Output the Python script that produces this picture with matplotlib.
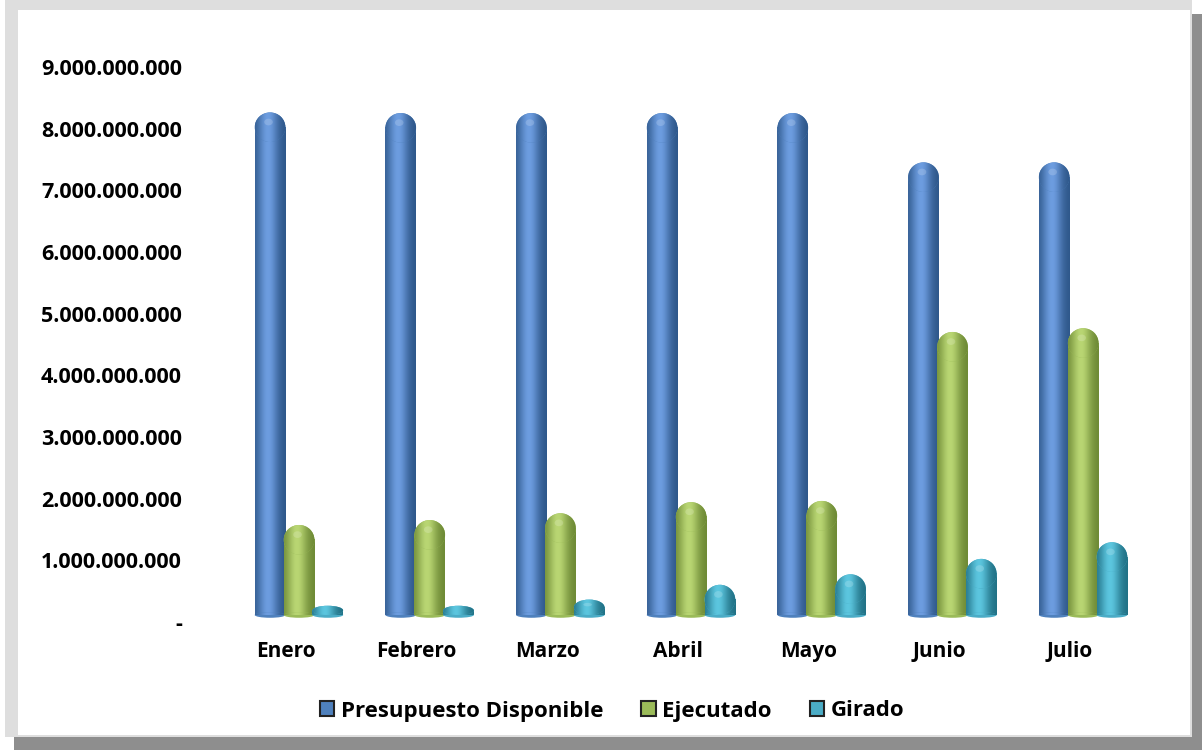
import numpy as np
import matplotlib
matplotlib.use('Agg')
import matplotlib.pyplot as plt
from matplotlib.patches import Rectangle, Ellipse, Patch
from matplotlib.transforms import ScaledTranslation
from matplotlib.ticker import FuncFormatter, MultipleLocator

meses = ['Enero', 'Febrero', 'Marzo', 'Abril', 'Mayo', 'Junio', 'Julio']
presupuesto = np.array([8.15, 8.14, 8.14, 8.14, 8.14, 7.34, 7.34]) * 1e9
ejecutado = np.array([1.46, 1.54, 1.65, 1.83, 1.85, 4.59, 4.65]) * 1e9
girado = np.array([0.02, 0.05, 0.25, 0.49, 0.66, 0.91, 1.18]) * 1e9
series_names = ['Presupuesto Disponible', 'Ejecutado', 'Girado']

plt.rcParams['font.family'] = ['Open Sans', 'DejaVu Sans']
plt.rcParams['font.weight'] = 'bold'

W, H = 1202, 751
fig = plt.figure(figsize=(W / 100, H / 100), dpi=100)
fig.patch.set_facecolor('white')


def px_rect(x0, y0, x1, y1, color, z):
    r = Rectangle((x0 / W, 1 - y1 / H), (x1 - x0) / W, (y1 - y0) / H,
                  transform=fig.transFigure, facecolor=color, edgecolor='none', zorder=z)
    fig.patches.append(r)


# frame with shadow
px_rect(14, 14, 1202, 750, '#8e8e8e', -3)
px_rect(5, 0, 1192, 737, '#dedede', -2)
px_rect(18, 10, 1190, 735, 'white', -1)

ax = fig.add_axes([200 / W, (H - 615) / H, 950 / W, 555 / H])
ax.set_facecolor('none')

# colours: (dark edge, light centre, base)
styles = [
    ('#2c5587', '#6d9de0', '#4f81bd'),
    ('#6b8733', '#b9d673', '#9bbb59'),
    ('#1f6e82', '#5cc6df', '#4bacc6'),
]
offsets = [-0.122, 0.10, 0.32]
width = 0.235
cap = 0.24e9
min_cap = 0.075e9
x = np.arange(len(meses))


def gradient(dark, light):
    t = np.linspace(0, 1, 80)
    prof = np.exp(-((t - 0.42) / 0.33) ** 2)
    d = np.array(matplotlib.colors.to_rgb(dark))
    l = np.array(matplotlib.colors.to_rgb(light))
    return (d[None, :] + (l - d)[None, :] * prof[:, None])[None, :, :]


def clipped_image(img, ext, patch, z):
    im = ax.imshow(img, extent=ext, aspect='auto', interpolation='bilinear', zorder=z)
    im.set_clip_path(patch)
    im.set_clip_box(None)
    return im


for k, vals in enumerate([presupuesto, ejecutado, girado]):
    dark, light, base = styles[k]
    img = gradient(dark, light)
    z = 2 + k
    half = np.maximum(np.minimum(cap, vals / 2), min_cap)
    body = np.maximum(vals - half, min_cap)
    bars = ax.bar(x + offsets[k], body, width, color=base, zorder=z, linewidth=0)
    for b, hh in zip(bars, half):
        x0 = b.get_x()
        x1 = x0 + b.get_width()
        cx = x0 + width / 2
        cy = b.get_height()
        clipped_image(img, [x0, x1, 0, cy], b, z)
        # rounded bottom
        bot = Ellipse((cx, 0), width, 0.09e9, facecolor=base,
                      edgecolor='none', zorder=z, clip_on=False)
        ax.add_patch(bot)
        clipped_image(img, [x0, x1, -0.05e9, 0.05e9], bot, z)
        # rounded top
        top = Ellipse((cx, cy), width, 2 * hh, facecolor=base,
                      edgecolor='none', zorder=z, clip_on=False)
        ax.add_patch(top)
        clipped_image(img, [x0, x1, cy - hh, cy + hh], top, z)
        if hh > 0.1e9:
            ax.add_patch(Ellipse((x0 + width * 0.45, cy + hh * 0.35), width * 0.28,
                                 hh * 0.45, facecolor='white', alpha=0.18,
                                 edgecolor='none', zorder=z, clip_on=False))

ax.set_xlim(-0.658, 6.611)
ax.set_ylim(0, 9e9)
ax.yaxis.set_major_locator(MultipleLocator(1e9))
ax.yaxis.set_major_formatter(FuncFormatter(
    lambda v, p: '-' if v == 0 else f'{int(round(v)):,}'.replace(',', '.')))
ax.set_xticks(x)
ax.set_xticklabels(meses)
ax.tick_params(axis='both', length=0)
ax.tick_params(axis='x', pad=19, labelsize=15)
ax.tick_params(axis='y', pad=13, labelsize=15.5)
for lab in ax.get_yticklabels():
    lab.set_transform(lab.get_transform() + ScaledTranslation(0, -0.07, fig.dpi_scale_trans))
for s in ax.spines.values():
    s.set_visible(False)

handles = [Patch(facecolor=styles[i][2], edgecolor='#222222', linewidth=1.5)
           for i in range(3)]
fig.legend(handles, series_names, loc='center', bbox_to_anchor=(612 / W, 1 - 711 / H),
           ncol=3, frameon=False, fontsize=16, handlelength=0.65, handleheight=0.65,
           handletextpad=0.3, columnspacing=1.7)

fig.savefig('out.png', dpi=100)
